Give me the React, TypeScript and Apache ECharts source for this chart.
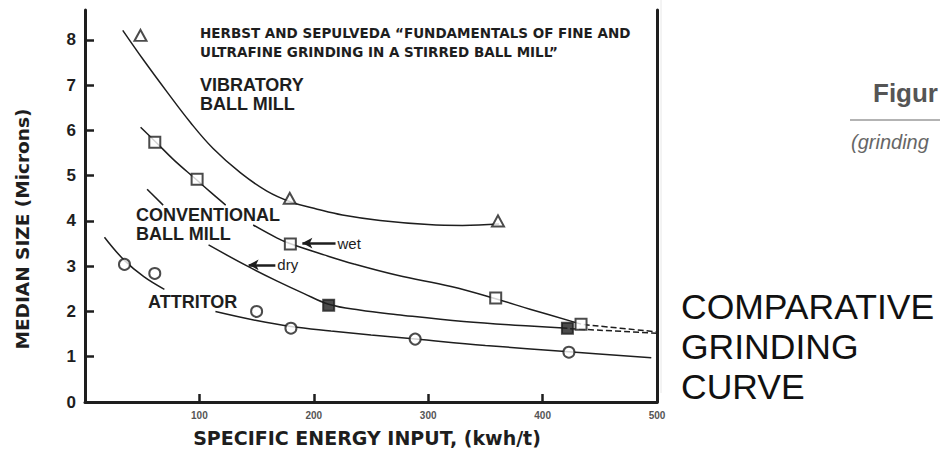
import React, { useEffect, useRef } from "react";
import * as echarts from "echarts";

// ---- data ----
const xTickValues = [100, 200, 300, 400];
const xLabelValues = [100, 200, 300, 400, 500];
const yTickValues = [1, 2, 3, 4, 5, 6, 7, 8];
const yLabelValues = [0, 1, 2, 3, 4, 5, 6, 7, 8];

const vibPoints = [[48.5, 8.1], [179, 4.5], [361, 4.0]];
const vibCurve = [[33, 8.21], [51, 7.56], [72, 6.84], [92, 6.18], [112, 5.6], [136, 5.06], [159, 4.66], [180, 4.42], [203, 4.26], [225, 4.13], [258, 4.01], [300, 3.92], [330, 3.9], [362, 3.93]];

const wetPoints = [[61, 5.74], [98, 4.92], [179.5, 3.49], [359, 2.3], [433.6, 1.72]];
const wetCurveA = [[48.6, 6.07], [61.6, 5.75], [77.6, 5.35], [97, 4.92], [110, 4.63], [123, 4.35]];
const wetCurveB = [[147, 3.91], [168, 3.62], [179, 3.5], [209, 3.25], [235, 3.05], [273, 2.8], [320, 2.55], [359, 2.28], [389, 2.05], [433.6, 1.72]];
const wetDash = [[436, 1.71], [500, 1.55]];

const dryPoints = [[213, 2.14], [421.7, 1.63]];
const dryCurveA = [[54.3, 4.7], [68.3, 4.35]];
const dryCurveB = [[108, 3.47], [142, 3.0], [168, 2.67], [191, 2.4], [213, 2.16], [240, 2.03], [273, 1.93], [331, 1.78], [389, 1.68], [421.7, 1.63]];
const dryDash = [[424, 1.62], [500, 1.52]];

const attrPoints = [[34.5, 3.04], [61, 2.84], [150, 2.0], [180, 1.63], [288.6, 1.39], [423, 1.1]];
const attrCurveA = [[17, 3.64], [34, 3.14], [51.4, 2.77], [69.4, 2.49]];
const attrCurveB = [[114, 2.0], [150, 1.8], [180, 1.67], [215, 1.57], [250, 1.48], [289, 1.39], [350, 1.25], [423, 1.11], [495, 0.98]];

const wetArrow = [[219, 3.51], [190, 3.51]];
const dryArrow = [[166.4, 3.03], [143, 3.03]];

const INK = "#1e1e1e";
const SANS = "'Liberation Sans', Arial, sans-serif";

function curve(data: number[][], dashed = false) {
  return {
    type: "line",
    data,
    smooth: 0.4,
    showSymbol: false,
    silent: true,
    z: 2,
    lineStyle: { color: INK, width: 1.5, type: dashed ? [6, 3] : "solid" },
  };
}

function markers(data: number[][], symbol: string, size: any, filled = false) {
  return {
    type: "scatter",
    data,
    symbol,
    symbolSize: size,
    silent: true,
    z: 5,
    itemStyle: { color: filled ? INK : "#ffffff", borderColor: INK, borderWidth: 2 },
  };
}

function arrow(coords: number[][], text: string) {
  return {
    type: "line",
    data: [],
    silent: true,
    markLine: {
      silent: true,
      animation: false,
      symbol: ["none", "arrow"],
      symbolSize: [8, 10],
      lineStyle: { color: INK, width: 2.5, type: "solid" },
      label: {
        show: true,
        position: "start",
        formatter: text,
        distance: 2,
        fontFamily: SANS,
        fontSize: 15,
        color: INK,
      },
      data: [[{ coord: coords[0] }, { coord: coords[1] }]],
    },
  };
}

function label(text: string, x: number, y: number, size: number, family = SANS, weight: any = "bold", fill = INK, style: any = "normal") {
  return {
    type: "text",
    x,
    y,
    silent: true,
    style: {
      text,
      fontSize: size,
      fontFamily: family,
      fontWeight: weight,
      fontStyle: style,
      fill,
      align: "left",
      verticalAlign: "middle",
    },
  };
}

export default function App() {
  const ref = useRef<HTMLDivElement>(null);
  useEffect(() => {
    if (!ref.current) return;
    const chart = echarts.init(ref.current, null, { renderer: "svg" });
    const axisLine = { show: true, onZero: false, lineStyle: { color: INK, width: 3 } };
    chart.setOption({
      animation: false,
      backgroundColor: "#ffffff",
      grid: { left: 85, right: 283, top: 10, bottom: 47 },
      xAxis: {
        type: "value",
        min: 0,
        max: 500,
        interval: 100,
        axisLine,
        splitLine: { show: false },
        axisTick: { show: true, inside: true, length: 8, lineStyle: { color: INK, width: 2.5 }, customValues: xTickValues },
        axisLabel: { customValues: xLabelValues, fontSize: 10, fontWeight: "bold", color: "#555", fontFamily: SANS, margin: 8 },
      },
      yAxis: [
        {
          type: "value",
          min: 0,
          max: 8.66,
          axisLine,
          splitLine: { show: false },
          axisTick: { show: true, inside: true, length: 9, lineStyle: { color: INK, width: 2.5 }, customValues: yTickValues },
          axisLabel: { customValues: yLabelValues, fontSize: 17, fontWeight: "bold", color: INK, fontFamily: SANS, margin: 9 },
        },
        {
          type: "value",
          position: "right",
          min: 0,
          max: 8.66,
          axisLine,
          splitLine: { show: false },
          axisTick: { show: false },
          axisLabel: { show: false },
        },
      ],
      series: [
        curve(vibCurve),
        curve(wetCurveA),
        curve(wetCurveB),
        curve(wetDash, true),
        curve(dryCurveA),
        curve(dryCurveB),
        curve(dryDash, true),
        curve(attrCurveA),
        curve(attrCurveB),
        markers(vibPoints, "triangle", [12, 11]),
        markers(wetPoints, "rect", 11),
        markers(dryPoints, "rect", 11, true),
        markers(attrPoints, "circle", 11),
        arrow(wetArrow, "wet"),
        arrow(dryArrow, "dry"),
      ],
      graphic: [
        label("HERBST AND SEPULVEDA \u201CFUNDAMENTALS OF FINE AND", 200, 33, 13.5, "'DejaVu Sans', sans-serif"),
        label("ULTRAFINE GRINDING IN A STIRRED BALL MILL\u201D", 200, 52, 13.5, "'DejaVu Sans', sans-serif"),
        label("VIBRATORY", 200, 85, 18),
        label("BALL MILL", 200, 104, 18),
        label("CONVENTIONAL", 136, 215, 18),
        label("BALL MILL", 136, 234, 18),
        label("ATTRITOR", 148, 301.5, 18),
        {
          type: "text",
          x: 367,
          y: 438,
          silent: true,
          style: {
            text: "SPECIFIC ENERGY INPUT, (kwh/t)",
            fontSize: 19,
            fontWeight: "bold",
            fontFamily: "'DejaVu Sans', sans-serif",
            fill: INK,
            align: "center",
            verticalAlign: "middle",
          },
        },
        {
          type: "text",
          x: 22,
          y: 229,
          rotation: Math.PI / 2,
          silent: true,
          style: {
            text: "MEDIAN SIZE (Microns)",
            fontSize: 18.5,
            fontWeight: "bold",
            fontFamily: "'DejaVu Sans', sans-serif",
            fill: INK,
            align: "center",
            verticalAlign: "middle",
          },
        },
        { type: "line", silent: true, shape: { x1: 661, y1: 0, x2: 661, y2: 393 }, style: { stroke: "#e8e8e8", lineWidth: 1 } },
        label("Figur", 873, 93, 26, SANS, "bold", "#555"),
        { type: "line", silent: true, shape: { x1: 850, y1: 120, x2: 940, y2: 120 }, style: { stroke: "#9a9a9a", lineWidth: 1.5 } },
        label("(grinding", 851, 142, 20, SANS, "normal", "#666", "italic"),
        label("COMPARATIVE", 681, 307, 35.5, SANS, "normal", "#111"),
        label("GRINDING", 681, 347, 35.5, SANS, "normal", "#111"),
        label("CURVE", 681, 387, 35.5, SANS, "normal", "#111"),
      ],
    });
    return () => chart.dispose();
  }, []);
  return <div ref={ref} style={{ position: "fixed", left: 0, top: 0, width: 940, height: 449, background: "#fff" }} />;
}
